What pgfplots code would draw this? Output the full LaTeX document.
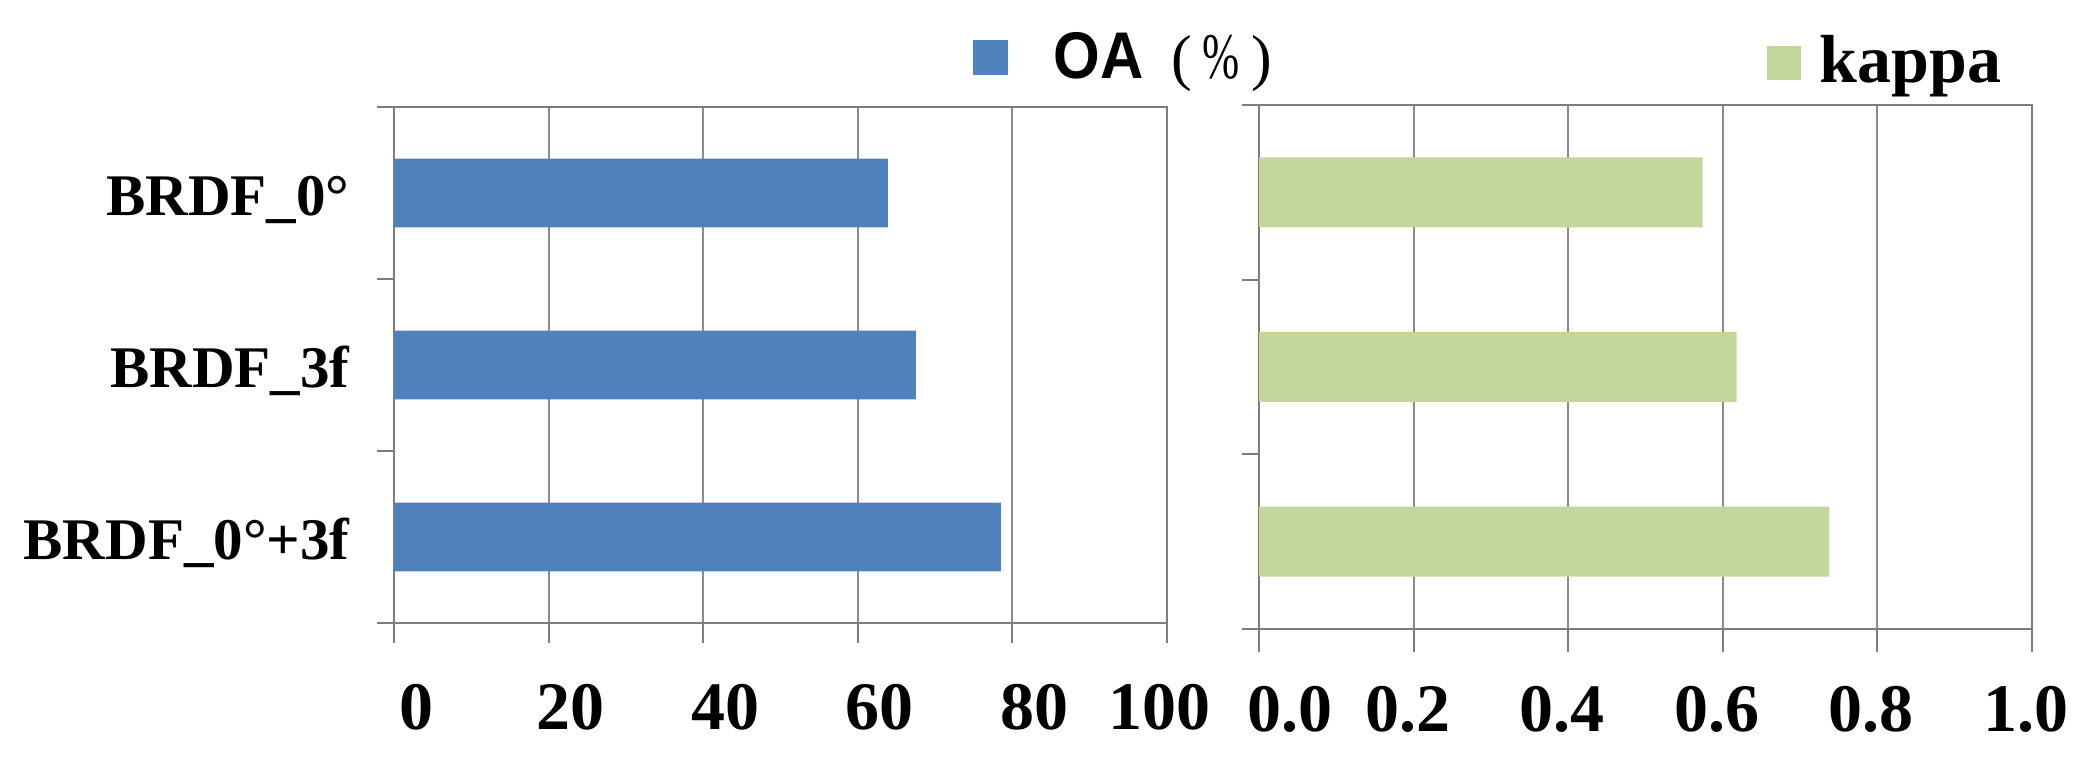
\documentclass[border=0pt]{standalone}
\usepackage{graphicx}
\usepackage{pgfplots}
\pgfplotsset{compat=1.18}
\usepackage{fontspec}
\setmainfont{Liberation Serif}
\setsansfont{Liberation Sans}
\definecolor{oablue}{RGB}{79,129,189}
\definecolor{kgreen}{RGB}{196,215,155}
\definecolor{gridgray}{RGB}{140,140,140}
\definecolor{axgray}{RGB}{125,125,125}
\pgfplotsset{
  panel/.style={
    scale only axis, width=386.5pt, anchor=south west,
    xbar, bar width=0.4, y dir=reverse, ymin=0.5, ymax=3.5,
    ytick={1,2,3}, minor ytick={0.5,1.5,2.5,3.5},
    major y tick style={draw=none},
    tick align=outside, xtick pos=bottom, ytick pos=left,
    major tick length=10pt, minor tick length=8.5pt,
    xmajorgrids, grid style={gridgray, line width=1pt},
    axis line style={axgray, line width=1.3pt},
    every tick/.style={axgray, line width=1pt},
    xticklabel style={font=\fontsize{34}{40}\selectfont\bfseries, anchor=base, inner sep=0pt},
    legend style={draw=none, fill=none, inner sep=0pt, outer sep=0pt,
      nodes={inner sep=0pt, outer sep=0pt}},
  }
}
\begin{document}
\begin{tikzpicture}
\path[use as bounding box] (0,0) rectangle (1046pt,385.5pt);
\begin{axis}[panel, at={(197pt,74pt)}, height=258pt,
  xmin=0, xmax=100, xtick={0,20,40,60,80,100},
  xticklabels={0,20,40,60,80,{\kern-15pt 100\kern15pt}},
  xticklabel style={xshift=11pt, yshift=-43pt},
  yticklabels={BRDF\_0°,BRDF\_3f,BRDF\_0°+3f},
  yticklabel style={font=\fontsize{29.5}{35}\selectfont\bfseries, anchor=base east, inner sep=0pt, yshift=-11pt, xshift=-12pt},
  legend style={at={(0.749,1.0959)}, anchor=west, column sep=23pt},
]
\addplot[fill=oablue, draw=none,
  legend image code/.code={\fill[oablue] (0pt,-8.75pt) rectangle (17.5pt,8.75pt);}]
  coordinates {(63.9,1) (67.5,2) (78.5,3)};
\addlegendentry{\raisebox{-11.1pt}[0pt][0pt]{{\fontsize{30}{36}\selectfont\sffamily\bfseries\scalebox{1}[1.1]{OA}}{\fontsize{31}{36}\selectfont\kern14pt(\kern5pt\scalebox{0.72}[1.05]{\%}\kern6pt)}}}
\end{axis}
\begin{axis}[panel, at={(629.5pt,71pt)}, height=262pt,
  xmin=0, xmax=1, xtick={0,0.2,0.4,0.6,0.8,1},
  xticklabels={{\kern18.5pt 0.0\kern-18.5pt},0.2,0.4,0.6,0.8,1.0},
  xticklabel style={xshift=-3pt, yshift=-39.5pt},
  major tick length=11.5pt,
  yticklabels={,,},
  legend style={at={(0.657,1.0811)}, anchor=west, column sep=9.5pt},
]
\addplot[fill=kgreen, draw=none,
  legend image code/.code={\fill[kgreen] (0pt,-8.5pt) rectangle (17pt,8.5pt);}]
  coordinates {(0.574,1) (0.618,2) (0.738,3)};
\addlegendentry{\raisebox{-10.75pt}[0pt][0pt]{\fontsize{34}{40}\selectfont\bfseries kappa}}
\end{axis}
\end{tikzpicture}
\end{document}
